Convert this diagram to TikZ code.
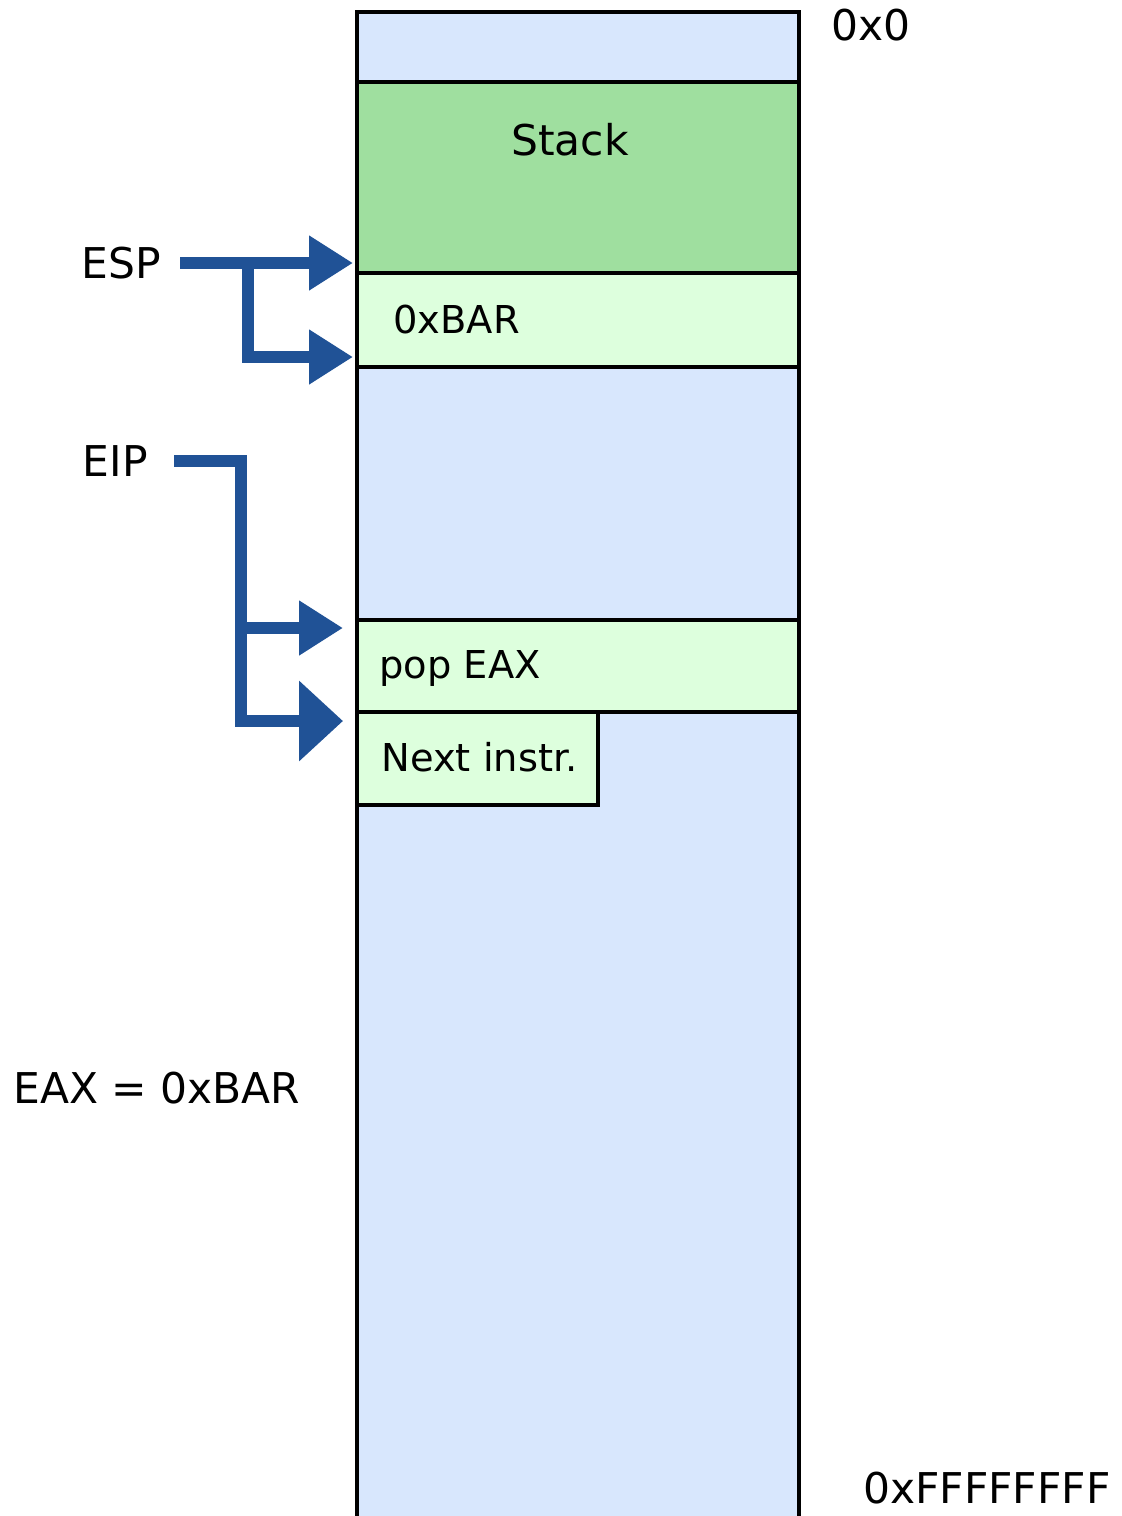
\documentclass[tikz,border=0pt]{standalone}
\usepackage{fontspec}
\setmainfont{DejaVu Sans}
\usetikzlibrary{arrows.meta}
\definecolor{colblue}{HTML}{D8E7FD}
\definecolor{stackgreen}{HTML}{9FDF9F}
\definecolor{cellgreen}{HTML}{DDFFDD}
\definecolor{ptrblue}{HTML}{205296}

\begin{document}
\begin{tikzpicture}[x=0.5pt, y=-0.5pt,
    cell/.style={draw=black, line width=1.75pt},
    txt/.style={inner sep=0pt, font=\fontsize{19.2}{23}\selectfont},
    lbl/.style={inner sep=0pt, font=\fontsize{21.2}{25}\selectfont},
    ptr/.style={draw=ptrblue, line width=6pt, line join=miter}]
    \useasboundingbox (0,0) rectangle (1122,1516);
    % memory column
    \fill[colblue] (357,12) rectangle (799,1530);
    \draw[line width=1.75pt] (357,1530) -- (357,12) -- (799,12) -- (799,1530);
    \draw[cell, fill=stackgreen] (357,82) rectangle (799,273);
    \draw[cell, fill=cellgreen] (357,273) rectangle (799,367);
    \draw[cell, fill=cellgreen] (357,620) rectangle (799,712);
    \draw[cell, fill=cellgreen] (357,712) rectangle (598,805);

    \node[lbl, anchor=base] (stack) at (570,155) {Stack};
    \node[txt, anchor=base west] (bar) at (393,333) {0xBAR};
    \node[txt, anchor=base west] (pop) at (379,678) {pop EAX};
    \node[txt, anchor=base west] (next) at (381,771) {Next instr.};
    \node[lbl, anchor=base west] (low) at (831,40) {0x0};
    \node[lbl, anchor=base west] (high) at (863,1503) {0xFFFFFFFF};
    \node[lbl, anchor=base west] (eax) at (13,1103) {EAX = 0xBAR};
    \node[lbl, anchor=east] (esp) at (161,263) {ESP};
    \node[lbl, anchor=east] (eip) at (148,461) {EIP};

    % ESP pointer
    \coordinate (espjoin) at (248,263);
    \coordinate (esptop) at (353,263);
    \coordinate (espbot) at (353,357);
    \draw[ptr, shorten <=9.5pt, -{Triangle[length=22pt,width=26pt]}] (esp.east) -- (esptop);
    \draw[ptr, -{Triangle[length=22pt,width=26pt]}] (espjoin) |- (espbot);

    % EIP pointer
    \coordinate (eipjoin) at (241,461);
    \coordinate (eiptop) at (343,628);
    \coordinate (eipbot) at (343,721);
    \draw[ptr, shorten <=13pt, -{Triangle[length=22pt,width=39pt]}] (eip.east) -- (eipjoin) |- (eipbot);
    \draw[ptr, -{Triangle[length=22pt,width=26pt]}] (eiptop -| eipjoin) -- (eiptop);
\end{tikzpicture}
\end{document}
